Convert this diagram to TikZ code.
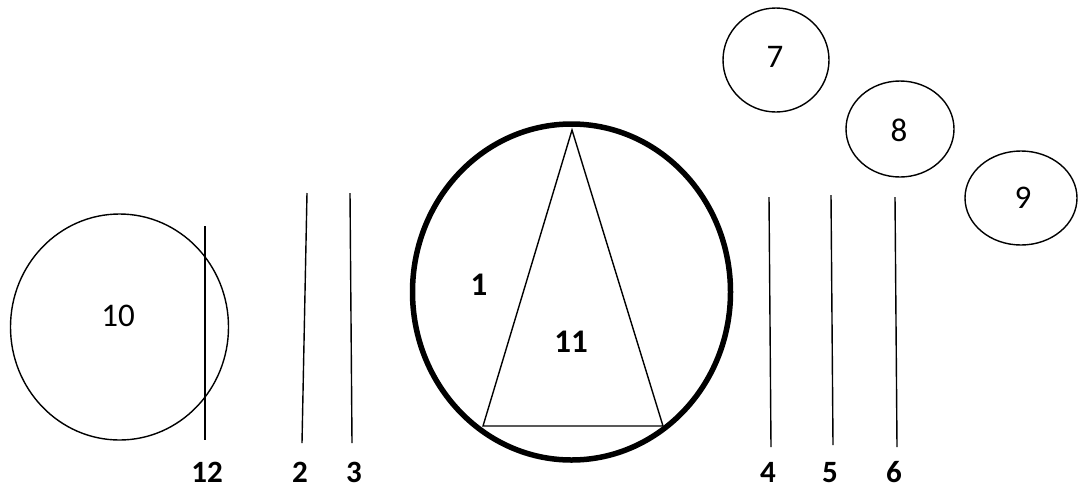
\documentclass[tikz,border=0pt]{standalone}
\usepackage{fontspec}
\setmainfont{Carlito}
\usetikzlibrary{shapes.geometric}
\begin{document}
\begin{tikzpicture}[x=1pt,y=-1pt,
  thinline/.style={line width=1.4pt},
  oval/.style={draw,ellipse,line width=1.4pt,inner sep=0pt},
  lbl/.style={font=\fontsize{33}{33}\selectfont,inner sep=0pt},
  blbl/.style={font=\fontsize{33}{33}\selectfont\bfseries,inner sep=0pt},
  botlbl/.style={font=\fontsize{31}{31}\selectfont\bfseries,inner sep=0pt,anchor=base,text depth=0pt}]
\useasboundingbox (0,0) rectangle (1078,491);
% big thick ellipse
\node[draw,ellipse,line width=5.5pt,minimum width=318pt,minimum height=336pt,inner sep=0pt] (big) at (571.5,292) {};
% triangle
\coordinate (apex) at (572,130);
\coordinate (bl) at (483,426);
\coordinate (br) at (663,426);
\draw[thinline,line join=miter] (apex) -- (bl) -- (br) -- cycle;
\node[blbl] (l1) at (479,285) {1};
\node[blbl] (l11) at (571,342) {11};
% circle 10
\node[oval,minimum width=218pt,minimum height=226pt] (c10) at (119.5,327) {};
\node[lbl] (l10) at (118,316) {10};
% small circles
\node[oval,minimum width=106pt,minimum height=104pt] (c7) at (776,60) {};
\node[lbl] (l7) at (775,57) {7};
\node[oval,minimum width=108pt,minimum height=96pt] (c8) at (900,129) {};
\node[lbl] (l8) at (899,130) {8};
\node[oval,minimum width=112pt,minimum height=94pt] (c9) at (1021,198) {};
\node[lbl] (l9) at (1023,198) {9};
% vertical lines
\coordinate (t12) at (205,226); \coordinate (b12) at (205,440);
\coordinate (t2) at (307,193); \coordinate (b2) at (302,443);
\coordinate (t3) at (350,193); \coordinate (b3) at (352,443);
\coordinate (t4) at (769,197); \coordinate (b4) at (771,447);
\coordinate (t5) at (831,195); \coordinate (b5) at (833,445);
\coordinate (t6) at (895,197); \coordinate (b6) at (897,447);
\foreach \n in {12,2,3,4,5,6} \draw[thinline] (t\n) -- (b\n);
\node[botlbl] (n12) at (207,482) {12};
\node[botlbl] (n2) at (300,482) {2};
\node[botlbl] (n3) at (354,482) {3};
\node[botlbl] (n4) at (768,482) {4};
\node[botlbl] (n5) at (830,482) {5};
\node[botlbl] (n6) at (894,482) {6};
\end{tikzpicture}
\end{document}
